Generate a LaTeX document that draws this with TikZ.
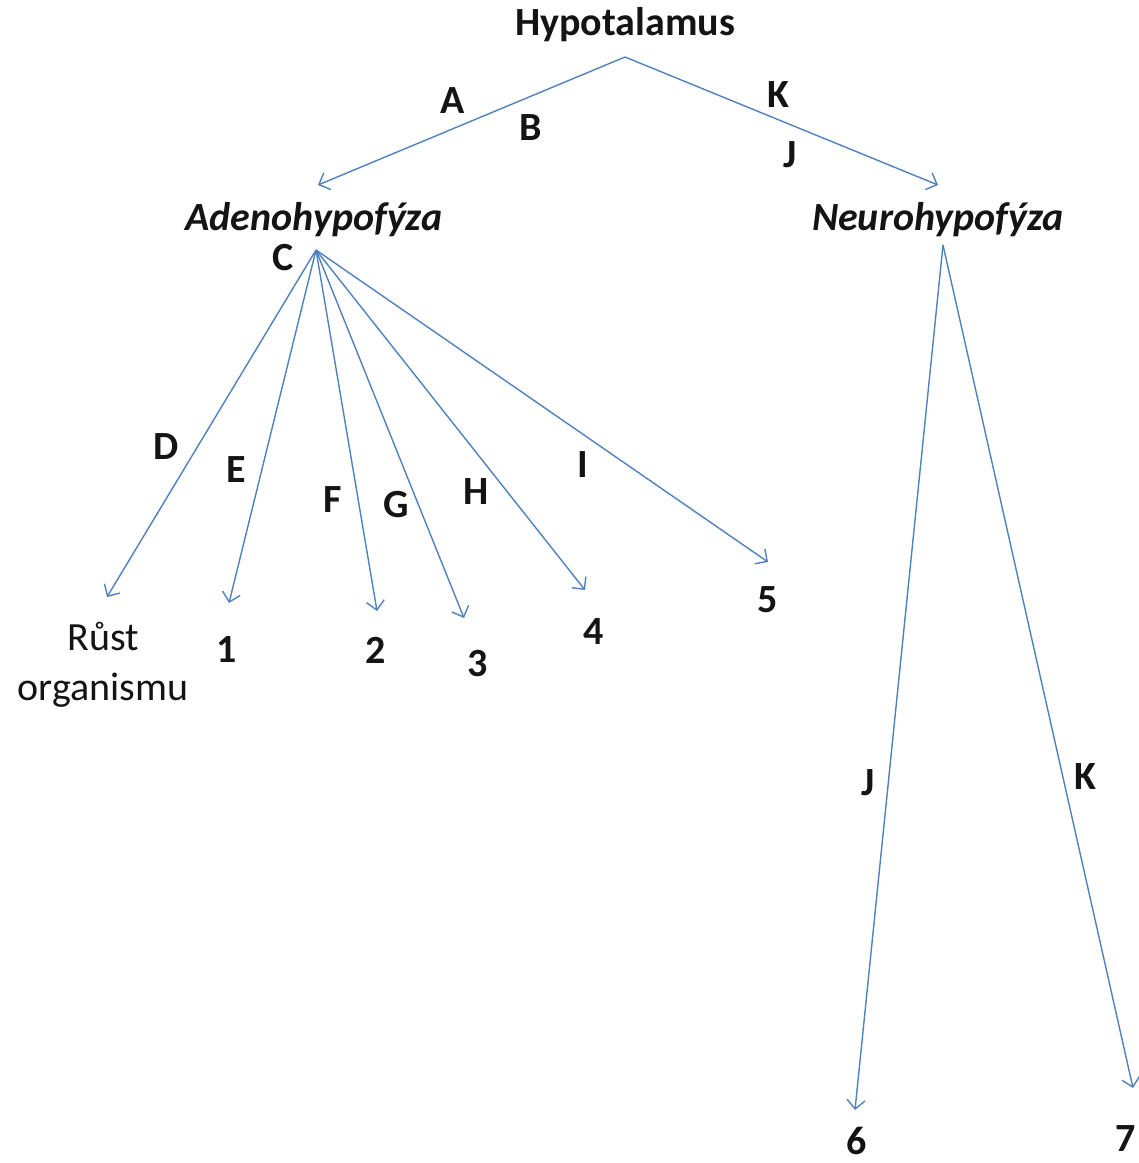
\documentclass[tikz,border=0pt]{standalone}
\usepackage{fontspec}
\setmainfont{Carlito}
\usetikzlibrary{arrows.meta}
\definecolor{linkblue}{RGB}{79,129,189}
\definecolor{ink}{RGB}{20,20,20}
\begin{document}
\begin{tikzpicture}[x=1pt,y=-1pt,
  lbl/.style={inner sep=0pt,text=ink,font=\fontsize{40}{48}\selectfont\bfseries},
  organ/.style={inner sep=0pt,text=ink,font=\fontsize{40}{48}\selectfont\bfseries\itshape},
  plain/.style={inner sep=0pt,text=ink,align=center,font=\fontsize{40}{50}\selectfont},
  link/.style={draw=linkblue,line width=1.4pt,-{Straight Barb[length=9pt,width=18pt,line width=1.4pt]}}]
\useasboundingbox (0,0) rectangle (1139,1163);

% main text nodes
\node[lbl] (hypo) at (625,25) {Hypotalamus};
\node[organ] (adeno) at (314,220) {Adenohypofýza};
\node[organ] (neuro) at (938,220) {Neurohypofýza};
\node[plain] (rust) at (103,665) {Růst\\organismu};
\node[lbl] (n1) at (227,650) {1};
\node[lbl] (n2) at (376,650) {2};
\node[lbl] (n3) at (478,664) {3};
\node[lbl] (n4) at (594,632) {4};
\node[lbl] (n5) at (768,600) {5};
\node[lbl] (n6) at (857,1141) {6};
\node[lbl] (n7) at (1126,1139) {7};

% branching points and arrow ends
\coordinate (top) at (625,57);
\coordinate (fanA) at (316,250);
\coordinate (fanN) at (943,245);
\coordinate (endA) at (318,185);
\coordinate (endN) at (938,185);
\coordinate (endD) at (107,597);
\coordinate (endE) at (229,603);
\coordinate (endF) at (377,611);
\coordinate (endG) at (464,618);
\coordinate (endH) at (585,590);
\coordinate (endI) at (768,562);
\coordinate (endJ) at (855,1110);
\coordinate (endK) at (1133,1088);

% connectors
\draw[link] (top) -- (endA);
\draw[link] (top) -- (endN);
\foreach \e in {D,E,F,G,H,I}{\draw[link] (fanA) -- (end\e);}
\draw[link] (fanN) -- (endJ);
\draw[link] (fanN) -- (endK);

% letter labels
\node[lbl] (lA) at (453,101) {A};
\node[lbl] (lB) at (531,128) {B};
\node[lbl] (lK) at (778,95) {K};
\node[lbl] (lJ) at (790,155) {J};
\node[lbl] (lC) at (283,258) {C};
\node[lbl] (lD) at (166,447) {D};
\node[lbl] (lE) at (236,470) {E};
\node[lbl] (lF) at (333,500) {F};
\node[lbl] (lG) at (396,505) {G};
\node[lbl] (lH) at (476,492) {H};
\node[lbl] (lI) at (583,465) {I};
\node[lbl] (lJ2) at (868,783) {J};
\node[lbl] (lK2) at (1085,777) {K};
\end{tikzpicture}
\end{document}
